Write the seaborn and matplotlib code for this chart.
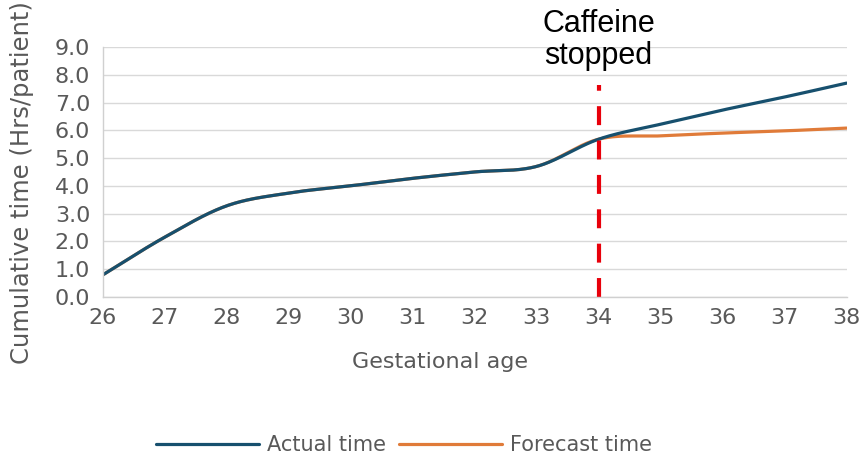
import numpy as np
import pandas as pd
import seaborn as sns
import matplotlib.pyplot as plt

# Dados
weeks = [26, 27, 28, 29, 30, 31, 32, 33, 34, 35, 36, 37, 38]
actual = [0.79, 2.15, 3.28, 3.74, 4.0, 4.27, 4.5, 4.7, 5.68, 6.22, 6.73, 7.2, 7.7]
forecast_weeks = [26, 27, 28, 29, 30, 31, 32, 33, 34, 35, 36, 37, 38]
forecast = [0.79, 2.15, 3.28, 3.74, 4.0, 4.27, 4.5, 4.7, 5.68, 5.8, 5.9, 5.98, 6.08]
caffeine_week = 34


def smooth(xs, ys, n=40):
    # curva suave (tipo Excel) passando pelos pontos, Hermite cúbico
    xs = np.asarray(xs, float)
    ys = np.asarray(ys, float)
    m = np.gradient(ys, xs)
    out_x, out_y = [], []
    for i in range(len(xs) - 1):
        h = xs[i + 1] - xs[i]
        t = np.linspace(0, 1, n, endpoint=False)
        h00 = 2 * t**3 - 3 * t**2 + 1
        h10 = t**3 - 2 * t**2 + t
        h01 = -2 * t**3 + 3 * t**2
        h11 = t**3 - t**2
        out_x.extend(xs[i] + t * h)
        out_y.extend(h00 * ys[i] + h10 * h * m[i] + h01 * ys[i + 1] + h11 * h * m[i + 1])
    out_x.append(xs[-1])
    out_y.append(ys[-1])
    return np.array(out_x), np.array(out_y)


sns.set_theme(style="white")
plt.rcParams['font.family'] = ['DejaVu Sans']

fig = plt.figure(figsize=(8.63, 4.61), dpi=100)
ax = fig.add_axes([0.119, 0.356, 0.862, 0.542])

gray = '#595959'
blue = '#17506e'
orange = '#e07b39'

fx, fy = smooth(forecast_weeks, forecast)
ax_x, ax_y = smooth(weeks, actual)
sns.lineplot(x=fx, y=fy, ax=ax, color=orange, linewidth=2.3, sort=False, label='Forecast time')
sns.lineplot(x=ax_x, y=ax_y, ax=ax, color=blue, linewidth=2.3, sort=False, label='Actual time')

# linha vertical tracejada (cafeína suspensa)
ax.plot([caffeine_week, caffeine_week], [0, 7.65], color='#e8000b', linewidth=3.0,
        dashes=(4.55, 3.7), solid_capstyle='butt', dash_capstyle='butt')
ax.text(caffeine_week, 9.25, 'Caffeine\nstopped', ha='center', va='center',
        fontsize=22, family='Liberation Sans', color='black', linespacing=1.12,
        clip_on=False)

ax.set_xlim(26, 38)
ax.set_ylim(0, 9)
ax.set_xticks(weeks)
ax.set_yticks(np.arange(0, 9.1, 1.0))
ax.set_yticklabels([f'{v:.1f}' for v in np.arange(0, 9.1, 1.0)])
ax.tick_params(axis='both', labelsize=16, colors=gray, length=0)
ax.tick_params(axis='x', pad=8)
ax.tick_params(axis='y', pad=9)
ax.yaxis.grid(True, color='#d9d9d9', linewidth=1)
ax.xaxis.grid(False)
for s in ['top', 'right']:
    ax.spines[s].set_visible(False)
for s in ['left', 'bottom']:
    ax.spines[s].set_color('#d0d0d0')
    ax.spines[s].set_linewidth(1)

ax.set_xlabel('Gestational age', fontsize=16, color=gray, va='center')
ax.xaxis.set_label_coords(0.453, -0.26)
ax.set_ylabel('Cumulative time (Hrs/patient)', fontsize=17.5, color=gray, va='center')
ax.yaxis.set_label_coords(-0.108, 0.456)

handles, labels = ax.get_legend_handles_labels()
ax.legend_.remove()
fig.legend(handles[::-1], labels[::-1], loc='center', bbox_to_anchor=(0.468, 0.035),
           ncol=2, frameon=False, fontsize=15, handlelength=4.95, columnspacing=0.6,
           handletextpad=0.4, labelcolor=gray)

fig.savefig('out.png', dpi=100)
